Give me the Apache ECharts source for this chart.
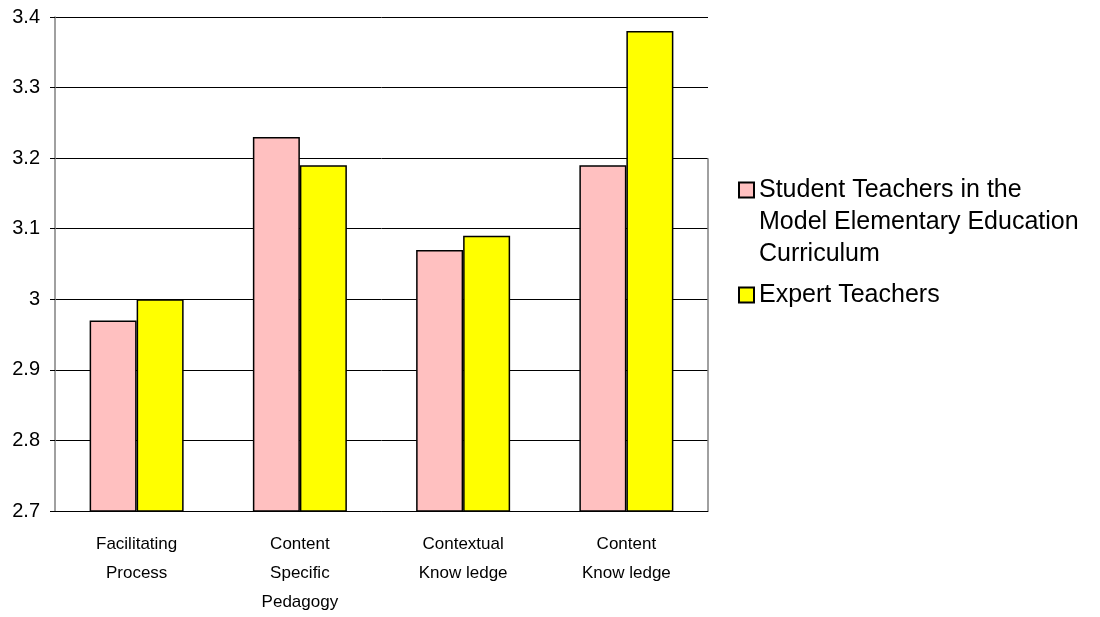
<!DOCTYPE html>
<html>
<head>
<meta charset="utf-8">
<script src="https://cdn.jsdelivr.net/npm/echarts@6/dist/echarts.min.js"></script>
<style>
    html, body { margin: 0; padding: 0; background: #fff; }
    #main { width: 1100px; height: 617px; }
</style>
</head>
<body>
<div id="main"></div>
<script>
var categories = ['Facilitating\nProcess', 'Content\nSpecific\nPedagogy', 'Contextual\nKnow ledge', 'Content\nKnow ledge'];
var studentName = 'Student Teachers in the\nModel Elementary Education\nCurriculum';
var expertName = 'Expert Teachers';
var studentValues = [2.97, 3.23, 3.07, 3.19];
var expertValues = [3.00, 3.19, 3.09, 3.38];

var myChart = echarts.init(document.getElementById('main'));

var option = {
    animation: false,
    textStyle: {
        fontFamily: 'Liberation Sans, Arial, sans-serif'
    },
    grid: {
        left: 55,
        right: 392,
        top: 17,
        bottom: 105
    },
    legend: {
        orient: 'vertical',
        left: 738,
        top: 110,
        padding: 0,
        itemWidth: 15,
        itemHeight: 15,
        itemGap: 9,
        icon: 'rect',
        // two empty lines in front so the icon sits on the first text line
        formatter: function(name) {
            if (name === studentName) return '\n\n' + name;
            return name;
        },
        textStyle: {
            fontSize: 25,
            color: '#000',
            lineHeight: 32
        },
        data: [studentName, expertName]
    },
    xAxis: {
        type: 'category',
        data: categories,
        axisLine: {
            lineStyle: { color: '#000', width: 1 }
        },
        axisTick: { show: false },
        axisLabel: {
            color: '#000',
            fontSize: 17,
            lineHeight: 29,
            margin: 19
        }
    },
    yAxis: {
        type: 'value',
        min: 2.7,
        max: 3.4,
        interval: 0.1,
        axisLine: {
            show: true,
            lineStyle: { color: '#808080', width: 1.5 }
        },
        axisTick: {
            show: true,
            length: 5,
            lineStyle: { color: '#000' }
        },
        axisLabel: {
            color: '#000',
            fontSize: 20,
            margin: 15,
            formatter: function(v) {
                return parseFloat(v.toFixed(1)).toString();
            }
        },
        splitLine: {
            lineStyle: { color: '#000', width: 1 }
        }
    },
    series: [{
        name: studentName,
        type: 'bar',
        data: studentValues,
        barWidth: 47,
        barGap: '0%',
        itemStyle: {
            color: '#FFC0C0',
            borderColor: '#000',
            borderWidth: 1.5
        }
    }, {
        name: expertName,
        type: 'bar',
        data: expertValues,
        barWidth: 47,
        itemStyle: {
            color: '#FFFF00',
            borderColor: '#000',
            borderWidth: 1.5
        }
    }]
};
myChart.setOption(option);

// the gray line on the right side of the plot, from 3.2 down to the base
var top32 = myChart.convertToPixel({ yAxisIndex: 0 }, 3.2);
var base = myChart.convertToPixel({ yAxisIndex: 0 }, 2.7);
var rightX = 1100 - 392;
myChart.setOption({
    graphic: [{
        type: 'line',
        shape: { x1: rightX, y1: top32, x2: rightX, y2: base },
        style: { stroke: '#808080', lineWidth: 1.5 },
        z: 10
    }]
});
</script>
</body>
</html>
